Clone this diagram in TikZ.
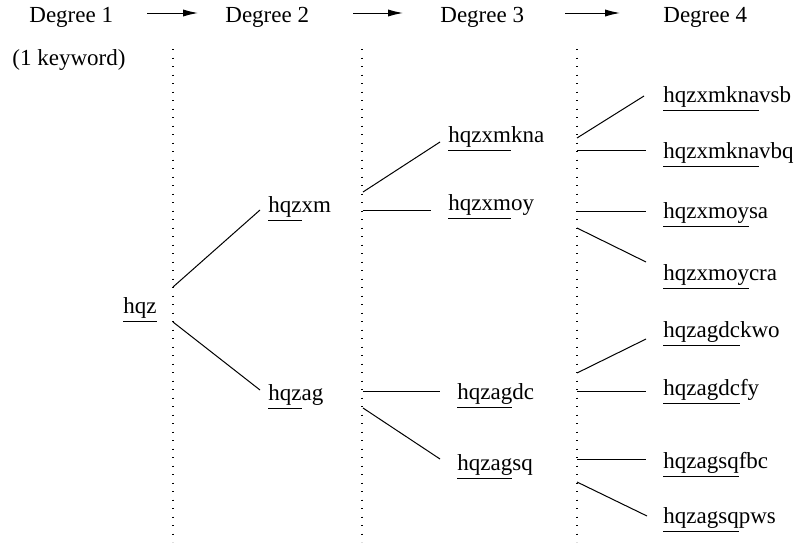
\documentclass[tikz,border=0pt]{standalone}
\usepackage{fontspec}
\setmainfont{Liberation Serif}
\usetikzlibrary{arrows.meta}
% underline the inherited prefix of a keyword
\newcommand\kwpre[1]{\setbox0\hbox{#1}\rlap{\rule[-4.6pt]{\wd0}{0.5pt}}#1}
\begin{document}
\begin{tikzpicture}[x=0.5pt,y=-0.5pt,
  kw/.style={anchor=base west,inner sep=0pt,font=\fontsize{11.5}{14}\selectfont},
  guide/.style={line width=0.65pt,black,dash pattern=on 0.6pt off 3.65pt},
  link/.style={line width=0.5pt},
  flow/.style={line width=0.5pt,-{Latex[length=7.5pt,width=3.6pt]}}]
\useasboundingbox (0,0) rectangle (802,546);

% header
\node[kw] (d1) at (29,22) {Degree 1};
\node[kw] (d2) at (225,22) {Degree 2};
\node[kw] (d3) at (440,22) {Degree 3};
\node[kw] (d4) at (663,22) {Degree 4};
\node[kw] (note) at (12,65) {(1 keyword)};
\draw[flow] ([shift={(17pt,4.5pt)}]d1.base east) -- ([shift={(-13.5pt,4.5pt)}]d2.base west);
\draw[flow] ([shift={(22pt,4.5pt)}]d2.base east) -- ([shift={(-18.5pt,4.5pt)}]d3.base west);
\draw[flow] ([shift={(20.5pt,4.5pt)}]d3.base east) -- ([shift={(-21.5pt,4.5pt)}]d4.base west);

% dotted column separators
\draw[guide] (173,49) -- (173,542);
\draw[guide] (362,49) -- (362,542);
\draw[guide] (577,49) -- (577,542);

% keywords
\node[kw] (hqz) at (123,313) {\kwpre{hqz}};
\node[kw] (hqzxm) at (268,212) {\kwpre{hqz}xm};
\node[kw] (hqzag) at (268,400) {\kwpre{hqz}ag};
\node[kw] (hqzxmkna) at (448,142) {\kwpre{hqzxm}kna};
\node[kw] (hqzxmoy) at (448,210) {\kwpre{hqzxm}oy};
\node[kw] (hqzagdc) at (457,399) {\kwpre{hqzag}dc};
\node[kw] (hqzagsq) at (457,470) {\kwpre{hqzag}sq};
\node[kw] (hqzxmknavsb) at (663,102) {\kwpre{hqzxmkna}vsb};
\node[kw] (hqzxmknavbq) at (663,158) {\kwpre{hqzxmkna}vbq};
\node[kw] (hqzxmoysa) at (663,218) {\kwpre{hqzxmoy}sa};
\node[kw] (hqzxmoycra) at (663,280) {\kwpre{hqzxmoy}cra};
\node[kw] (hqzagdckwo) at (663,337) {\kwpre{hqzagdc}kwo};
\node[kw] (hqzagdcfy) at (663,395) {\kwpre{hqzagdc}fy};
\node[kw] (hqzagsqfbc) at (663,468) {\kwpre{hqzagsq}fbc};
\node[kw] (hqzagsqpws) at (663,523) {\kwpre{hqzagsq}pws};

% branch points on the separators
\coordinate (t-hqz-a) at (173,287);
\coordinate (t-hqz-b) at (173,322);
\coordinate (t-xm-a) at (363,192);
\coordinate (t-xm-b) at (363,210);
\coordinate (t-ag-a) at (363,391);
\coordinate (t-ag-b) at (363,408);
\coordinate (t-kna-a) at (577,138);
\coordinate (t-kna-b) at (577,150);
\coordinate (t-moy-a) at (577,211);
\coordinate (t-moy-b) at (577,228);
\coordinate (t-dc-a) at (577,373);
\coordinate (t-dc-b) at (577,391);
\coordinate (t-sq-a) at (577,459);
\coordinate (t-sq-b) at (577,482);

% branches
\draw[link] (t-hqz-a) -- ([shift={(-4pt,1pt)}]hqzxm.base west);
\draw[link] (t-hqz-b) -- ([shift={(-4pt,5pt)}]hqzag.base west);
\draw[link] (t-xm-a) -- ([shift={(-4pt,0pt)}]hqzxmkna.base west);
\draw[link] (t-xm-b) -- ([shift={(-8.5pt,0pt)}]hqzxmoy.base west);
\draw[link] (t-ag-a) -- ([shift={(-8.5pt,4pt)}]hqzagdc.base west);
\draw[link] (t-ag-b) -- ([shift={(-8.5pt,5.5pt)}]hqzagsq.base west);
\draw[link] (t-kna-a) -- ([shift={(-9.5pt,3pt)}]hqzxmknavsb.base west);
\draw[link] (t-kna-b) -- ([shift={(-8.5pt,4pt)}]hqzxmknavbq.base west);
\draw[link] (t-moy-a) -- ([shift={(-8.5pt,3.5pt)}]hqzxmoysa.base west);
\draw[link] (t-moy-b) -- ([shift={(-8.5pt,9pt)}]hqzxmoycra.base west);
\draw[link] (t-dc-a) -- ([shift={(-8.5pt,-1pt)}]hqzagdckwo.base west);
\draw[link] (t-dc-b) -- ([shift={(-8.5pt,2pt)}]hqzagdcfy.base west);
\draw[link] (t-sq-a) -- ([shift={(-8.5pt,4.5pt)}]hqzagsqfbc.base west);
\draw[link] (t-sq-b) -- ([shift={(-8pt,3.5pt)}]hqzagsqpws.base west);
\end{tikzpicture}
\end{document}
